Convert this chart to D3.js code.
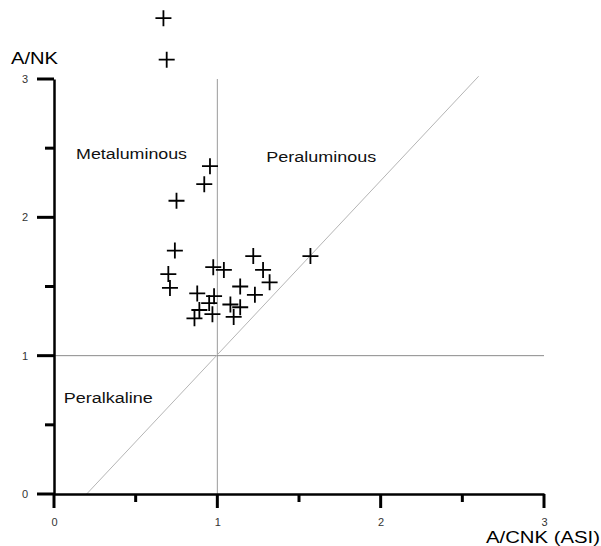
<!DOCTYPE html>
<html>
<head>
<meta charset="utf-8">
<script src="https://cdn.jsdelivr.net/npm/d3@7"></script>
<style>
  body { margin: 0; background: #fff; }
  text { font-family: "Liberation Sans", Arial, sans-serif; }
</style>
</head>
<body>
<div id="chart"></div>
<script>
// A/CNK (ASI) vs A/NK, one cross per sample
var asi = [0.67, 0.69, 0.955, 0.92, 0.75, 0.74, 0.70, 0.71, 0.877, 0.86, 0.89, 0.95, 0.98,
  0.97, 0.975, 1.04, 1.08, 1.14, 1.14, 1.10, 1.22, 1.28, 1.23, 1.32, 1.57];
var ank = [3.44, 3.14, 2.37, 2.24, 2.12, 1.76, 1.59, 1.49, 1.45, 1.27, 1.33, 1.38, 1.43,
  1.30, 1.64, 1.62, 1.37, 1.50, 1.35, 1.28, 1.72, 1.62, 1.44, 1.53, 1.72];

var majorTicks = [0, 1, 2, 3];
var minorTicks = [0.5, 1.5, 2.5];

var fields = [
  { name: "Metaluminous", x: 0.135, y: 2.42, w: 111 },
  { name: "Peraluminous", x: 1.3, y: 2.4, w: 110 },
  { name: "Peralkaline", x: 0.06, y: 0.66, w: 89 }
];

var width = 601,
  height = 546;

var x = d3.scaleLinear().domain([0, 3]).range([54, 544]);
var y = d3.scaleLinear().domain([0, 3]).range([494, 79]);

var svg = d3.select("#chart")
  .append("svg")
  .attr("width", width)
  .attr("height", height);

// boundary lines
svg.append("line")
  .attr("x1", x(1)).attr("x2", x(1))
  .attr("y1", y(0)).attr("y2", y(3))
  .attr("stroke", "#9a9a9a").attr("stroke-width", 1);

svg.append("line")
  .attr("x1", x(0)).attr("x2", x(3))
  .attr("y1", y(1)).attr("y2", y(1))
  .attr("stroke", "#8a8a8a").attr("stroke-width", 1);

svg.append("line")
  .attr("x1", x(0.2)).attr("x2", x(2.6))
  .attr("y1", y(0)).attr("y2", y(3.02))
  .attr("stroke", "#b5b5b5").attr("stroke-width", 1);

// axes: labels from d3 axis, tick marks drawn below
var xAxis = svg.append("g")
  .attr("transform", "translate(0," + y(0) + ")")
  .call(d3.axisBottom(x).tickValues(majorTicks).tickFormat(d3.format("d"))
    .tickSize(14).tickSizeOuter(0).tickPadding(10));

var yAxis = svg.append("g")
  .attr("transform", "translate(" + x(0) + ",0)")
  .call(d3.axisLeft(y).tickValues(majorTicks).tickFormat(d3.format("d"))
    .tickSize(17).tickSizeOuter(0).tickPadding(9));

[xAxis, yAxis].forEach(function (g) {
  g.select(".domain").attr("stroke", "#000").attr("stroke-width", 2.5);
  g.selectAll(".tick line").remove();
  g.selectAll(".tick text")
    .attr("fill", "#333")
    .style("font-size", "11px")
    .style("font-family", "'Liberation Sans', Arial, sans-serif");
});

var tickG = svg.append("g")
  .attr("stroke", "#000")
  .attr("stroke-width", 3);

tickG.selectAll(".xt")
  .data(majorTicks.concat(minorTicks))
  .enter()
  .append("line")
  .attr("x1", function (d) { return x(d); })
  .attr("x2", function (d) { return x(d); })
  .attr("y1", y(0))
  .attr("y2", function (d) { return y(0) + (majorTicks.indexOf(d) >= 0 ? 14 : 8); });

tickG.selectAll(".yt")
  .data(majorTicks.concat(minorTicks))
  .enter()
  .append("line")
  .attr("y1", function (d) { return y(d); })
  .attr("y2", function (d) { return y(d); })
  .attr("x1", x(0))
  .attr("x2", function (d) { return x(0) - (majorTicks.indexOf(d) >= 0 ? 17 : 9); });

// axis titles
svg.append("text")
  .attr("x", 11).attr("y", 64)
  .attr("textLength", 47).attr("lengthAdjust", "spacingAndGlyphs")
  .style("font-size", "16px")
  .text("A/NK");

svg.append("text")
  .attr("x", 486).attr("y", 543)
  .attr("textLength", 114).attr("lengthAdjust", "spacingAndGlyphs")
  .style("font-size", "16px")
  .text("A/CNK (ASI)");

// field names
svg.selectAll(".field")
  .data(fields)
  .enter()
  .append("text")
  .attr("class", "field")
  .attr("x", function (d) { return x(d.x); })
  .attr("y", function (d) { return y(d.y); })
  .attr("textLength", function (d) { return d.w; })
  .attr("lengthAdjust", "spacingAndGlyphs")
  .style("font-size", "14px")
  .attr("fill", "#111")
  .text(function (d) { return d.name; });

// samples
var pts = asi.map(function (v, i) { return { a: v, b: ank[i] }; });

svg.selectAll(".pt")
  .data(pts)
  .enter()
  .append("path")
  .attr("class", "pt")
  .attr("transform", function (d) {
    return "translate(" + x(d.a) + "," + y(d.b) + ")";
  })
  .attr("d", "M-8,0H8M0,-8V8")
  .attr("stroke", "#000")
  .attr("stroke-width", 1.8)
  .attr("fill", "none");
</script>
</body>
</html>
